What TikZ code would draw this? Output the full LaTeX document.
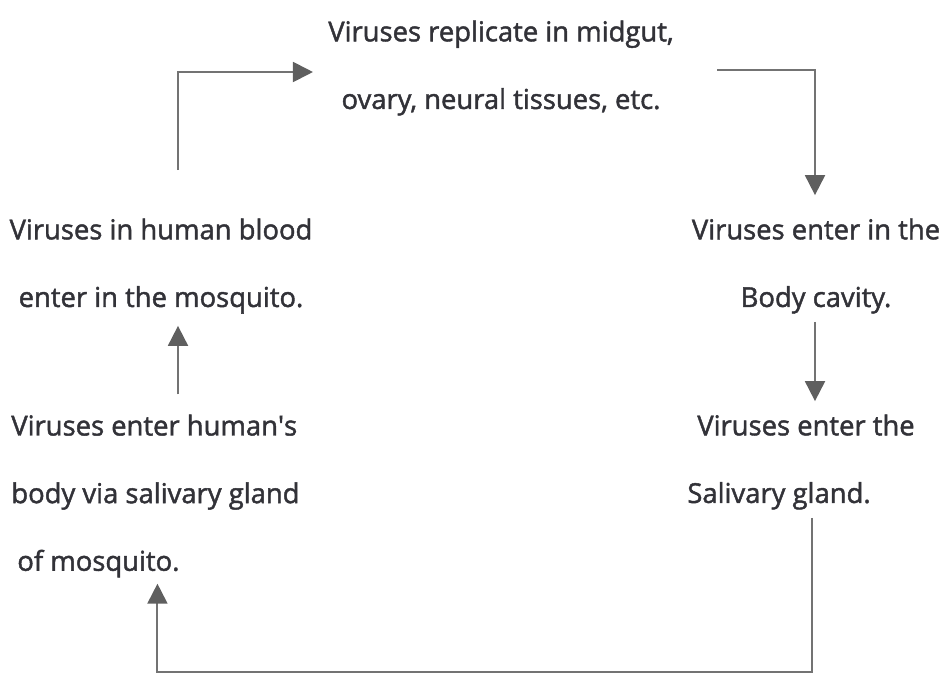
\documentclass[tikz,border=0pt]{standalone}
\usepackage{fontspec}
\setmainfont{Open Sans}[RawFeature={embolden=1.6}]
\usepackage{xcolor}
\usepackage{tikz}
\usetikzlibrary{calc,arrows.meta,positioning}
\definecolor{cycText}{RGB}{50,50,56}
\definecolor{cycLine}{RGB}{115,115,115}
\definecolor{cycHead}{RGB}{95,95,95}

\begin{document}
\begin{tikzpicture}[x=0.02cm,y=-0.02cm,
    stage/.style={text=cycText, inner sep=0pt, font=\fontsize{15.6}{38.5}\selectfont},
    flow/.style={draw=cycLine, line width=1.1pt, -{Triangle[length=0.4cm,width=0.4cm,color=cycHead]}}]
    \useasboundingbox (0,0) rectangle (947,680);

    % stages of the cycle
    \node[stage, align=center] (replicate) at (501,68) {Viruses replicate in midgut,\\ovary, neural tissues, etc.};
    \node[stage, align=center] (blood) at (161,266) {Viruses in human blood\\enter in the mosquito.};
    \node[stage, align=center] (cavity) at (816,266) {Viruses enter in the\\Body cavity.};
    \node[stage, align=left, anchor=west] (gland) at (687,462) {\hspace*{0.2cm}Viruses enter the\\Salivary gland.};
    \node[stage, align=left, anchor=west] (human) at (11,496) {Viruses enter human\textquotesingle s\\body via salivary gland\\\hspace*{0.12cm}of mosquito.};

    % arrows
    \draw[flow] ([shift={(17,-48)}]blood.north) |- ([shift={(-15,4)}]replicate.west);
    \draw[flow] ([shift={(43,2)}]replicate.east) -| ([shift={(-1,-23)}]cavity.north);
    \draw[flow] ([shift={(-1,8)}]cavity.south) -- ([shift={(-1,-13)}]cavity.south |- gland.north);
    \draw[flow] ([shift={(17,-20)}]blood.south |- human.north) -- ([shift={(17,12)}]blood.south);
    \draw[flow] ([shift={(11,8)}]gland.south) -- ++(0,154) -| ([shift={(2,6)}]human.south);
\end{tikzpicture}
\end{document}
